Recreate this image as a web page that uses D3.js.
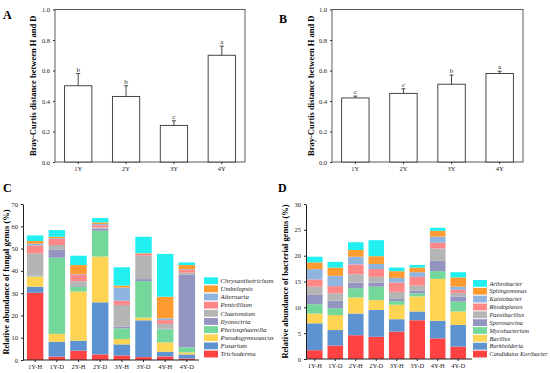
<!DOCTYPE html>
<html>
<head>
<meta charset="utf-8">
<script src="https://cdn.jsdelivr.net/npm/d3@7"></script>
<style>
  body { margin: 0; background: #fff; }
  svg { display: block; font-family: "Liberation Serif", "Times New Roman", serif; }
</style>
</head>
<body>
<svg id="chart" width="550" height="373"></svg>
<script>
'use strict';

// ---- data ----
var years = ['1Y', '2Y', '3Y', '4Y'];
var distFungi = [0.50, 0.43, 0.24, 0.70];
var errFungi = [0.08, 0.07, 0.03, 0.06];
var letterFungi = ['b', 'b', 'c', 'a'];
var distBact = [0.42, 0.45, 0.51, 0.58];
var errBact = [0.012, 0.03, 0.06, 0.015];
var letterBact = ['c', 'c', 'b', 'a'];
var distTicks = [0, 0.2, 0.4, 0.6, 0.8, 1.0];

var samples = ['1Y-H', '1Y-D', '2Y-H', '2Y-D', '3Y-H', '3Y-D', '4Y-H', '4Y-D'];

// bottom -> top of stack
var fungi = ['Trichoderma', 'Fusarium', 'Pseudogymnoascus', 'Plectosphaerella', 'Ilyonectria',
             'Chaetomium', 'Penicillium', 'Alternaria', 'Umbelopsis', 'Chrysanthotrichum'];
var fungiValues = [
  [30.2, 2.7, 4.5, 0.2, 0.2, 10.0, 3.6, 0.8, 1.2, 2.5],
  [1.5, 6.7, 3.5, 34.2, 3.5, 2.2, 2.8, 0.3, 0.6, 3.0],
  [4.2, 4.5, 22.0, 2.2, 0.3, 2.2, 3.0, 0.2, 4.0, 4.2],
  [2.5, 23.4, 20.5, 11.6, 1.0, 0.5, 1.0, 0.5, 0.7, 2.0],
  [2.0, 5.0, 2.4, 4.8, 0.8, 9.7, 1.9, 5.9, 0.9, 8.2],
  [1.3, 16.5, 1.2, 16.4, 0.9, 10.5, 0.8, 0.2, 0.2, 7.3],
  [1.6, 2.1, 4.2, 5.9, 0.3, 2.1, 1.7, 0.8, 9.7, 19.2],
  [0.7, 1.8, 0.9, 2.3, 32.7, 0.8, 1.2, 0.3, 1.9, 1.2]
];
var fungiTicks = [0, 10, 20, 30, 40, 50, 60, 70];

var bacteria = ['Candidatus Koribacter', 'Burkholderia', 'Bacillus', 'Mycobacterium', 'Sporosarcina',
                'Paenibacillus', 'Rhodoplanes', 'Kaistobacter', 'Sphingomonas', 'Arthrobacter'];
var bacteriaValues = [
  [1.7, 5.2, 1.9, 1.8, 1.8, 1.6, 1.4, 2.0, 1.3, 1.1],
  [2.6, 3.0, 2.9, 1.3, 1.5, 1.4, 1.4, 2.0, 1.6, 1.1],
  [4.6, 4.2, 3.1, 1.8, 1.1, 1.6, 1.9, 1.5, 1.3, 1.5],
  [4.3, 5.2, 1.9, 2.6, 0.8, 1.1, 1.5, 1.0, 1.5, 3.1],
  [5.3, 2.4, 2.8, 0.7, 0.4, 1.4, 1.8, 0.9, 1.3, 0.7],
  [7.5, 1.7, 2.9, 0.6, 0.5, 1.0, 1.7, 0.9, 0.9, 0.5],
  [4.0, 3.4, 8.1, 1.5, 2.0, 2.4, 1.1, 1.2, 1.1, 0.6],
  [2.4, 4.2, 2.6, 1.9, 1.0, 0.7, 0.6, 0.6, 1.8, 1.0]
];
var bactTicks = [0, 5, 10, 15, 20, 25, 30];

var palette = ['#ff4343', '#5d93d1', '#ffd452', '#74d89b', '#9494c1',
               '#b5b5b5', '#ff8787', '#8fb4e0', '#ff9b30', '#22f0f0'];

var svg = d3.select('#chart');

// ---- panels A and B ----
function distPanel(opts) {
  var x = d3.scaleBand().domain(years)
      .range([opts.left, opts.right]).paddingInner(0.43).paddingOuter(0.2);
  var y = d3.scaleLinear().domain([0, 1]).range([162, 9.5]);
  var g = svg.append('g');

  g.append('rect')
      .attr('x', opts.left).attr('y', y(1))
      .attr('width', opts.right - opts.left).attr('height', y(0) - y(1))
      .attr('fill', 'none').attr('stroke', '#333').attr('stroke-width', 0.8);

  g.selectAll('.bar')
      .data(opts.values)
      .enter().append('rect')
      .attr('x', (d, i) => x(years[i]))
      .attr('y', d => y(d))
      .attr('width', x.bandwidth())
      .attr('height', d => y(0) - y(d))
      .attr('fill', '#fff').attr('stroke', '#333').attr('stroke-width', 0.9);

  var eb = g.selectAll('.err')
      .data(opts.values)
      .enter().append('g');
  eb.append('line')
      .attr('x1', (d, i) => x(years[i]) + x.bandwidth() / 2)
      .attr('x2', (d, i) => x(years[i]) + x.bandwidth() / 2)
      .attr('y1', d => y(d))
      .attr('y2', (d, i) => y(d + opts.errors[i]))
      .attr('stroke', '#333').attr('stroke-width', 0.9);
  eb.append('line')
      .attr('x1', (d, i) => x(years[i]) + x.bandwidth() / 2 - 2)
      .attr('x2', (d, i) => x(years[i]) + x.bandwidth() / 2 + 2)
      .attr('y1', (d, i) => y(d + opts.errors[i]))
      .attr('y2', (d, i) => y(d + opts.errors[i]))
      .attr('stroke', '#333').attr('stroke-width', 0.9);
  eb.append('text')
      .attr('x', (d, i) => x(years[i]) + x.bandwidth() / 2)
      .attr('y', (d, i) => y(d + opts.errors[i]) - 2)
      .attr('text-anchor', 'middle')
      .attr('font-size', 7).attr('fill', '#222')
      .text((d, i) => opts.letters[i]);

  var yAxis = g.append('g')
      .attr('transform', 'translate(' + opts.left + ',0)')
      .call(d3.axisLeft(y).tickValues(distTicks).tickFormat(d3.format('.1f')).tickSize(2).tickPadding(3));
  var xAxis = g.append('g')
      .attr('transform', 'translate(0,' + y(0) + ')')
      .call(d3.axisBottom(x).tickSize(2).tickPadding(2));
  [yAxis, xAxis].forEach(function(a) {
    a.select('.domain').remove();
    a.selectAll('line').attr('stroke', '#333');
    a.selectAll('text').attr('font-family', 'Liberation Serif').attr('font-size', 6.5).attr('fill', '#222');
  });

  g.append('text')
      .attr('transform', 'translate(' + opts.labelX + ',' + (y(0.5)) + ') rotate(-90)')
      .attr('text-anchor', 'middle')
      .attr('font-weight', 'bold').attr('font-size', 8.5)
      .text('Bray-Curtis distance between H and D');
  g.append('text')
      .attr('x', opts.tagX).attr('y', opts.tagY)
      .attr('font-weight', 'bold').attr('font-size', 12)
      .text(opts.tag);
}

distPanel({ left: 55, right: 245, values: distFungi, errors: errFungi, letters: letterFungi,
            labelX: 36, tag: 'A', tagX: 3, tagY: 19 });
distPanel({ left: 332, right: 523, values: distBact, errors: errBact, letters: letterBact,
            labelX: 314, tag: 'B', tagX: 279, tagY: 23 });

// ---- panels C and D ----
function stackPanel(opts) {
  var x = d3.scaleBand().domain(samples)
      .range([opts.left, opts.right]).paddingInner(0.24).paddingOuter(opts.outer);
  var y = d3.scaleLinear().domain([0, opts.max]).range([opts.bottom, 204]);
  var g = svg.append('g');

  var rows = opts.values.map(function(v, i) {
    var r = { sample: samples[i] };
    opts.keys.forEach(function(k, j) { r[k] = v[j]; });
    return r;
  });
  var series = d3.stack().keys(opts.keys)(rows);

  g.selectAll('.layer')
      .data(series)
      .enter().append('g')
      .attr('fill', (d, i) => palette[i])
      .selectAll('rect')
      .data(d => d)
      .enter().append('rect')
      .attr('x', d => x(d.data.sample))
      .attr('y', d => y(d[1]))
      .attr('width', x.bandwidth())
      .attr('height', d => y(d[0]) - y(d[1]));

  var yAxis = g.append('g')
      .attr('transform', 'translate(' + opts.left + ',0)')
      .call(d3.axisLeft(y).tickValues(opts.ticks).tickSize(2).tickPadding(3).tickSizeOuter(0));
  var xAxis = g.append('g')
      .attr('transform', 'translate(0,' + opts.bottom + ')')
      .call(d3.axisBottom(x).tickSize(2).tickPadding(2).tickSizeOuter(0));
  xAxis.select('.domain').attr('d', 'M' + opts.left + ',0H' + opts.axisEnd);
  [yAxis, xAxis].forEach(function(a) {
    a.selectAll('line, .domain').attr('stroke', '#222');
    a.selectAll('text').attr('font-family', 'Liberation Serif').attr('font-size', 6.5).attr('fill', '#222');
  });

  g.append('text')
      .attr('transform', 'translate(' + opts.labelX + ',' + y(opts.max / 2) + ') rotate(-90)')
      .attr('text-anchor', 'middle')
      .attr('font-weight', 'bold').attr('font-size', 8.5)
      .text(opts.label);
  g.append('text')
      .attr('x', opts.tagX).attr('y', 192)
      .attr('font-weight', 'bold').attr('font-size', 12)
      .text(opts.tag);

  // legend, top entry is the top of the stack
  var legendKeys = opts.keys.slice().reverse();
  var item = g.selectAll('.legend')
      .data(legendKeys)
      .enter().append('g')
      .attr('transform', (d, i) => 'translate(' + opts.legendX + ',' + (opts.legendY + i * opts.legendStep) + ')');
  item.append('rect')
      .attr('width', 14).attr('height', 6.8)
      .attr('fill', (d, i) => palette[opts.keys.length - 1 - i]);
  item.append('text')
      .attr('x', 16.5).attr('y', 5.6)
      .attr('font-style', 'italic').attr('font-size', opts.legendFont).attr('fill', '#222')
      .text(d => d);
}

stackPanel({ left: 23, right: 199, outer: 0.18, axisEnd: 199, bottom: 360, max: 70,
             values: fungiValues, keys: fungi, ticks: fungiTicks,
             label: 'Relative abundance of fungal genus (%)', labelX: 9, tag: 'C', tagX: 3,
             legendX: 204, legendY: 277.3, legendStep: 8.15, legendFont: 6.8 });
stackPanel({ left: 306, right: 467, outer: 0.05, axisEnd: 472, bottom: 359, max: 30,
             values: bacteriaValues, keys: bacteria, ticks: bactTicks,
             label: 'Relative abundance of bacterial genus (%)', labelX: 288, tag: 'D', tagX: 278,
             legendX: 473, legendY: 280, legendStep: 7.85, legendFont: 6.3 });
</script>
</body>
</html>
